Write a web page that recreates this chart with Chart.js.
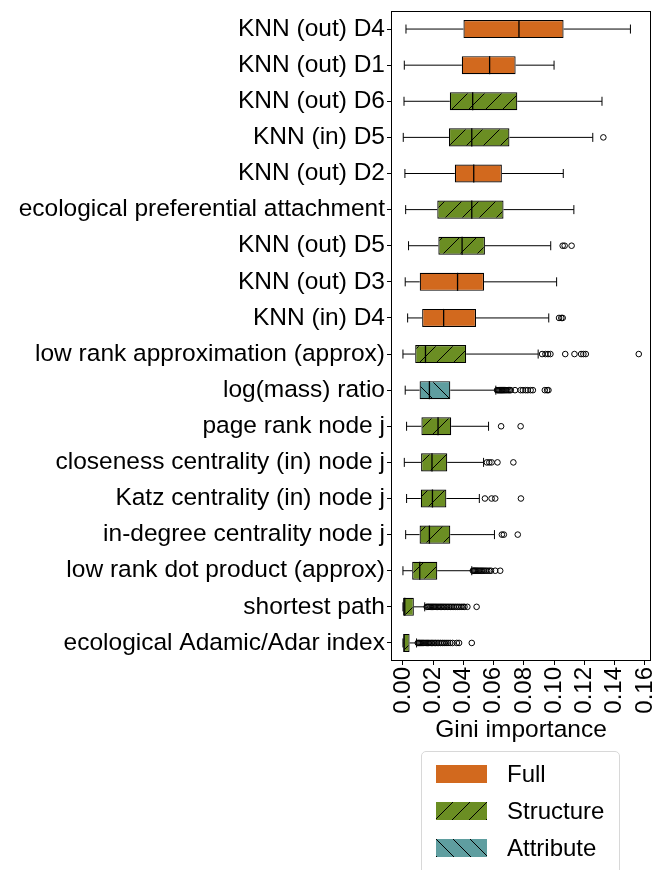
<!DOCTYPE html>
<html>
<head>
<meta charset="utf-8">
<script src="https://cdn.jsdelivr.net/npm/chart.js@4.4.1/dist/chart.umd.min.js"></script>
<style>
  body { margin: 0; background: #fff; font-family: "Liberation Sans", Arial, sans-serif; }
  #wrap { position: relative; width: 656px; height: 870px; }
  #legend {
    position: absolute; left: 421px; top: 751px; width: 199px; height: 130px;
    border: 1px solid #d8d8d8; border-radius: 5px; box-sizing: border-box;
  }
  .item { position: absolute; left: 14px; height: 24px; display: flex; align-items: center; }
  .item canvas { width: 51px; height: 18px; margin-right: 20px; }
  .item span { font-size: 24px; color: #000; }
</style>
</head>
<body>
<div id="wrap">
  <canvas id="chart"></canvas>
  <div id="legend"></div>
</div>
<script>
// categories, top to bottom
const labels = [
    'KNN (out) D4', 'KNN (out) D1', 'KNN (out) D6', 'KNN (in) D5', 'KNN (out) D2',
    'ecological preferential attachment', 'KNN (out) D5', 'KNN (out) D3', 'KNN (in) D4',
    'low rank approximation (approx)', 'log(mass) ratio', 'page rank node j',
    'closeness centrality (in) node j', 'Katz centrality (in) node j', 'in-degree centrality node j',
    'low rank dot product (approx)', 'shortest path', 'ecological Adamic/Adar index'
];
const groups = [
    'Full', 'Full', 'Structure', 'Structure', 'Full', 'Structure', 'Structure', 'Full', 'Full',
    'Structure', 'Attribute', 'Structure', 'Structure', 'Structure', 'Structure', 'Structure',
    'Structure', 'Structure'
];

// box plot statistics (Gini importance)
const whiskerLow = [0.0020, 0.0009, 0.0007, 0.0002, 0.0013, 0.0018, 0.0037, 0.0015, 0.0031,
    0.0000, 0.0015, 0.0024, 0.0009, 0.0024, 0.0018, 0.0000, 0.0000, 0.0000];
const q1 = [0.0400, 0.0389, 0.0310, 0.0304, 0.0343, 0.0227, 0.0234, 0.0111, 0.0127,
    0.0081, 0.0110, 0.0122, 0.0120, 0.0118, 0.0110, 0.0061, 0.0001, 0.0002];
const median = [0.0767, 0.0573, 0.0461, 0.0455, 0.0468, 0.0455, 0.0391, 0.0361, 0.0269,
    0.0149, 0.0175, 0.0232, 0.0192, 0.0195, 0.0175, 0.0111, 0.0012, 0.0008];
const q3 = [0.1062, 0.0745, 0.0756, 0.0704, 0.0654, 0.0665, 0.0542, 0.0536, 0.0483,
    0.0418, 0.0313, 0.0319, 0.0293, 0.0287, 0.0313, 0.0227, 0.0072, 0.0044];
const whiskerHigh = [0.1504, 0.0999, 0.1316, 0.1255, 0.1060, 0.1130, 0.0977, 0.1016, 0.0964,
    0.0894, 0.0614, 0.0566, 0.0533, 0.0505, 0.0605, 0.0455, 0.0144, 0.0090];

const outliers = [
    [], [], [], [0.1325], [], [],
    [0.1056, 0.1069, 0.1115],
    [],
    [0.1032, 0.1047, 0.1056],
    [0.0920, 0.0942, 0.0959, 0.0975, 0.1073, 0.1134, 0.1178, 0.1193, 0.1209, 0.1559],
    [0.0622, 0.0628, 0.0634, 0.0640, 0.0646, 0.0652, 0.0658, 0.0665, 0.0672, 0.0680, 0.0688,
     0.0697, 0.0705, 0.0713, 0.0741, 0.0778, 0.0793, 0.0811, 0.0825, 0.0844, 0.0859,
     0.0938, 0.0953, 0.0962],
    [0.0649, 0.0778],
    [0.0555, 0.0571, 0.0586, 0.0625, 0.0730],
    [0.0542, 0.0586, 0.0610, 0.0780],
    [0.0654, 0.0667, 0.0759],
    [0.0462, 0.0468, 0.0474, 0.0480, 0.0487, 0.0494, 0.0502, 0.0510, 0.0518, 0.0527, 0.0536,
     0.0546, 0.0557, 0.0570, 0.0582, 0.0610, 0.0643],
    [0.0157, 0.0165, 0.0172, 0.0180, 0.0188, 0.0196, 0.0204, 0.0212, 0.0220, 0.0229, 0.0238,
     0.0247, 0.0256, 0.0265, 0.0274, 0.0284, 0.0294, 0.0304, 0.0314, 0.0325, 0.0336, 0.0348,
     0.0360, 0.0372, 0.0385, 0.0397, 0.0407, 0.0426, 0.0487],
    [0.0098, 0.0104, 0.0110, 0.0117, 0.0124, 0.0131, 0.0138, 0.0146, 0.0154, 0.0162, 0.0170,
     0.0179, 0.0188, 0.0197, 0.0206, 0.0216, 0.0226, 0.0237, 0.0248, 0.0260, 0.0272, 0.0285,
     0.0298, 0.0312, 0.0328, 0.0356, 0.0371, 0.0455]
];

const xTickValues = [0, 0.02, 0.04, 0.06, 0.08, 0.10, 0.12, 0.14, 0.16];

const groupColors = { Full: '#d2691e', Structure: '#6b8e23', Attribute: '#5f9ea0' };
const groupHatch = { Full: null, Structure: '/', Attribute: '\\' };

const FONT = '"Liberation Sans", Arial, Helvetica, sans-serif';

function makeHatch(ctx, color, dir) {
    const s = 17;
    const c = document.createElement('canvas');
    c.width = s;
    c.height = s;
    const g = c.getContext('2d');
    g.fillStyle = color;
    g.fillRect(0, 0, s, s);
    if (dir) {
        g.strokeStyle = '#000';
        g.lineWidth = 1;
        g.beginPath();
        if (dir === '/') {
            g.moveTo(0, s); g.lineTo(s, 0);
            g.moveTo(-2, 2); g.lineTo(2, -2);
            g.moveTo(s - 2, s + 2); g.lineTo(s + 2, s - 2);
        } else {
            g.moveTo(0, 0); g.lineTo(s, s);
            g.moveTo(-2, s - 2); g.lineTo(2, s + 2);
            g.moveTo(s - 2, -2); g.lineTo(s + 2, 2);
        }
        g.stroke();
    }
    return ctx.createPattern(c, 'repeat');
}

const canvas = document.getElementById('chart');
const mainCtx = canvas.getContext('2d');
const fills = groups.map(gr => makeHatch(mainCtx, groupColors[gr], groupHatch[gr]));

const outlierPoints = [];
outliers.forEach((vals, i) => vals.forEach(v => outlierPoints.push({ x: v, y: labels[i] })));

// whiskers, caps, medians and the axes frame
const boxExtras = {
    id: 'boxExtras',
    afterDatasetsDraw(chart) {
        const { ctx, scales: { x, y }, chartArea } = chart;
        const half = Math.abs(y.getPixelForValue(0.25) - y.getPixelForValue(0));
        ctx.save();
        ctx.strokeStyle = '#000';
        labels.forEach((lab, i) => {
            const py = y.getPixelForValue(i);
            const xl = x.getPixelForValue(whiskerLow[i]);
            const x1 = x.getPixelForValue(q1[i]);
            const x3 = x.getPixelForValue(q3[i]);
            const xh = x.getPixelForValue(whiskerHigh[i]);
            const cap = half / 2;
            ctx.lineWidth = 1;
            ctx.beginPath();
            ctx.moveTo(xl, py); ctx.lineTo(x1, py);
            ctx.moveTo(x3, py); ctx.lineTo(xh, py);
            ctx.moveTo(xl, py - cap); ctx.lineTo(xl, py + cap);
            ctx.moveTo(xh, py - cap); ctx.lineTo(xh, py + cap);
            ctx.stroke();
            const xm = x.getPixelForValue(median[i]);
            ctx.lineWidth = 1.3;
            ctx.beginPath();
            ctx.moveTo(xm, py - half); ctx.lineTo(xm, py + half);
            ctx.stroke();
        });
        ctx.lineWidth = 1;
        ctx.strokeRect(chartArea.left + 0.5, chartArea.top + 0.5,
            chartArea.right - chartArea.left - 1, chartArea.bottom - chartArea.top - 1);
        ctx.restore();
    }
};

new Chart(canvas, {
    type: 'bar',
    data: {
        labels: labels,
        datasets: [{
            type: 'bar',
            label: 'box',
            data: labels.map((l, i) => [q1[i], q3[i]]),
            backgroundColor: fills,
            borderColor: '#000',
            borderWidth: 1.2,
            borderSkipped: false,
            barPercentage: 0.5,
            categoryPercentage: 1.0,
            order: 2
        }, {
            type: 'scatter',
            label: 'outliers',
            data: outlierPoints,
            pointStyle: 'circle',
            pointRadius: 2.8,
            pointBorderWidth: 1,
            pointBorderColor: '#000',
            pointBackgroundColor: 'rgba(0,0,0,0)',
            order: 1
        }]
    },
    options: {
        indexAxis: 'y',
        responsive: true,
        maintainAspectRatio: false,
        animation: false,
        layout: { padding: { top: 11, left: 0, right: 3, bottom: 125 } },
        plugins: { legend: { display: false }, tooltip: { enabled: false } },
        scales: {
            x: {
                type: 'linear',
                min: -0.0079,
                max: 0.164,
                afterBuildTicks(scale) { scale.ticks = xTickValues.map(v => ({ value: v })); },
                afterFit(scale) {
                    scale.height = 84;
                    scale.paddingLeft = 0;
                    scale.paddingRight = 0;
                },
                border: { display: false },
                grid: { drawOnChartArea: false, drawTicks: true, tickLength: 4, color: '#000' },
                ticks: {
                    minRotation: 90, maxRotation: 90, padding: 2, color: '#000',
                    font: { family: FONT, size: 24 },
                    callback: v => Number(v).toFixed(2)
                },
                title: {
                    display: true, text: 'Gini importance', color: '#000',
                    font: { family: FONT, size: 24.5 }, padding: { top: 0, bottom: 0 }
                }
            },
            y: {
                type: 'category',
                afterFit(scale) {
                    scale.width = 391;
                    scale.paddingTop = 0;
                    scale.paddingBottom = 0;
                },
                border: { display: false },
                grid: { offset: false, drawOnChartArea: false, drawTicks: true, tickLength: 4, color: '#000' },
                ticks: { color: '#000', padding: 2, font: { family: FONT, size: 24.5 } }
            }
        }
    },
    plugins: [boxExtras]
});

// legend
const legendBox = document.getElementById('legend');
['Full', 'Structure', 'Attribute'].forEach((gr, k) => {
    const item = document.createElement('div');
    item.className = 'item';
    item.style.top = (10 + k * 37) + 'px';
    const sw = document.createElement('canvas');
    sw.width = 51;
    sw.height = 18;
    const sctx = sw.getContext('2d');
    sctx.fillStyle = makeHatch(sctx, groupColors[gr], groupHatch[gr]);
    sctx.fillRect(0, 0, 51, 18);
    const txt = document.createElement('span');
    txt.textContent = gr;
    item.appendChild(sw);
    item.appendChild(txt);
    legendBox.appendChild(item);
});
</script>
</body>
</html>
